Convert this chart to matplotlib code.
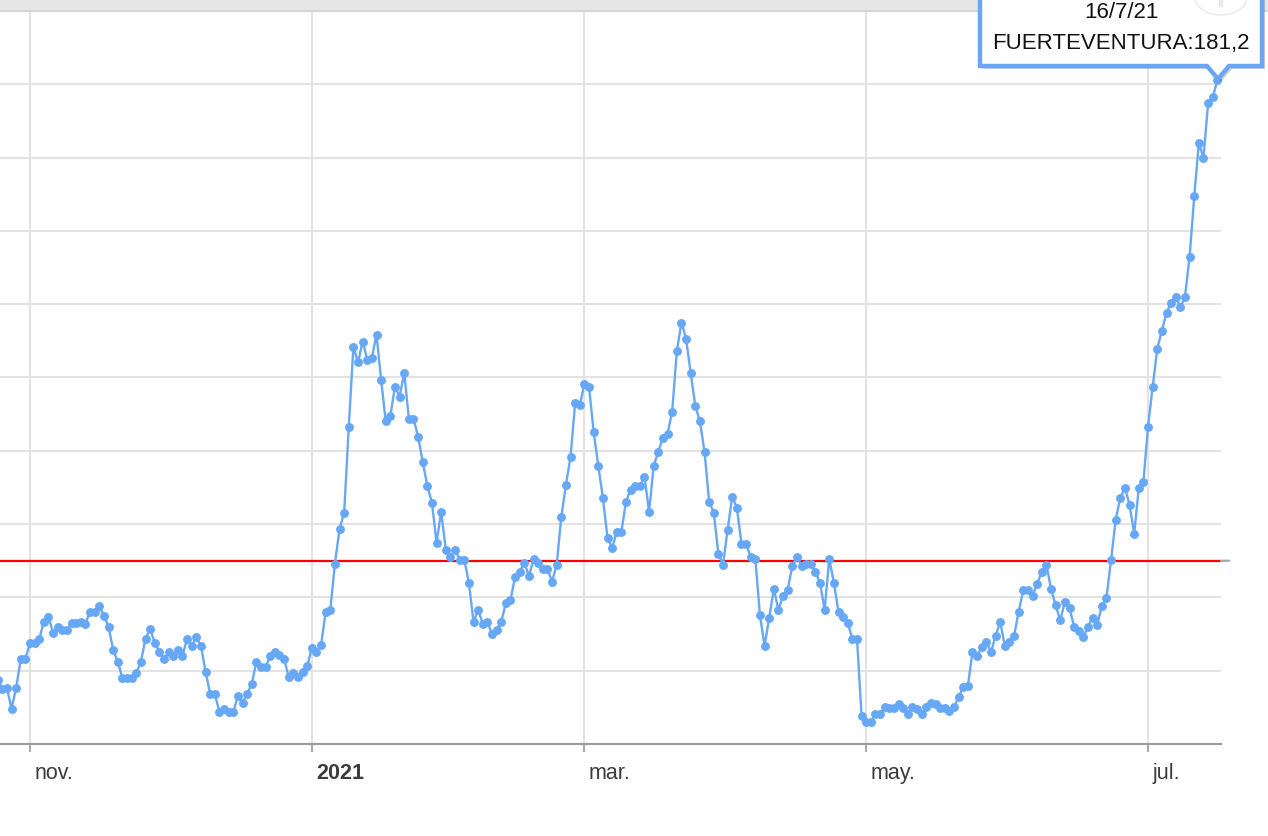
import matplotlib
matplotlib.use("Agg")
import matplotlib.pyplot as plt
import matplotlib.dates as mdates
from matplotlib.patches import Polygon, Rectangle, Circle
import pandas as pd

# Incidencia diaria de Fuerteventura, del 25/10/2020 al 16/7/2021
START_DATE = "2020-10-25"
INCIDENCE = [
    # oct. 25-31
    17.5, 15.0, 15.3, 9.6, 15.3, 23.2, 23.2,
    # nov.
    27.6, 27.6, 28.7, 33.3, 34.7, 30.3, 32.0, 31.1, 31.1, 33.1,
    33.1, 33.3, 32.8, 36.1, 36.1, 37.7, 35.0, 32.0, 25.7, 22.4,
    18.0, 18.0, 18.0, 19.4, 22.4, 28.7, 31.4, 27.6, 25.1, 23.2,
    # dic.
    25.1, 24.0, 25.7, 24.0, 28.7, 26.8, 29.2, 26.8, 19.7, 13.7,
    13.7, 8.7, 9.6, 8.7, 8.7, 13.1, 11.2, 13.7, 16.4, 22.4,
    21.0, 21.0, 24.0, 25.1, 24.3, 23.2, 18.3, 19.4, 18.3, 19.7, 21.3,
    # ene.
    26.2, 25.1, 27.0, 36.1, 36.6, 49.2, 58.7, 63.1, 86.6, 108.4,
    104.1, 109.8, 104.9, 105.4, 111.7, 99.4, 88.0, 89.6, 97.5, 94.8,
    101.3, 88.8, 88.8, 83.9, 77.0, 70.5, 65.8, 54.9, 63.4, 53.0, 51.1,
    # feb.
    53.0, 50.3, 50.3, 44.0, 33.3, 36.6, 32.8, 33.3, 30.0, 31.1,
    33.3, 38.5, 39.3, 45.6, 47.0, 49.4, 45.9, 50.5, 49.4, 47.8,
    47.8, 44.3, 48.9, 62.0, 70.7, 78.4, 93.1, 92.6,
    # mar.
    98.1, 97.5, 85.2, 75.9, 67.2, 56.3, 53.5, 57.9, 57.9, 66.1,
    69.4, 70.5, 70.5, 72.9, 63.4, 75.9, 79.8, 83.6, 84.7, 90.7,
    107.1, 115.0, 110.6, 101.3, 92.3, 88.0, 79.8, 66.1, 63.1, 51.9, 48.9,
    # abr.
    58.5, 67.5, 64.5, 54.6, 54.6, 51.0, 50.5, 35.1, 26.8, 34.4,
    42.3, 36.6, 40.4, 42.1, 48.6, 51.1, 48.6, 49.2, 49.2, 47.0,
    44.0, 36.6, 50.5, 44.0, 36.1, 34.7, 33.1, 28.7, 28.7, 7.6,
    # may.
    6.0, 6.0, 8.2, 8.2, 10.1, 9.8, 9.8, 10.9, 9.8, 8.2,
    10.1, 9.6, 8.2, 10.1, 11.2, 10.9, 9.8, 9.8, 9.0, 10.1,
    12.8, 15.6, 15.8, 25.1, 24.0, 26.5, 27.9, 25.1, 29.5, 33.3, 26.8,
    # jun.
    27.9, 29.5, 36.1, 42.1, 42.1, 40.4, 43.7, 47.0, 48.9, 42.4,
    37.8, 33.8, 38.8, 37.1, 32.0, 30.9, 29.2, 32.0, 34.4, 32.5,
    37.7, 39.9, 50.3, 61.2, 67.2, 69.9, 65.3, 57.4, 69.9, 71.6,
    # jul.
    86.6, 97.5, 107.9, 112.8, 117.7, 120.3, 122.1, 119.1, 122.1, 133.0,
    149.4, 164.0, 159.9, 174.8, 176.4, 181.2,
]
THRESHOLD = 50
TICK_DATES = ["2020-11-01", "2021-01-01", "2021-03-01", "2021-05-01", "2021-07-01"]
TICK_LABELS = ["nov.", "2021", "mar.", "may.", "jul."]
ISLAND = "FUERTEVENTURA"

W, H = 1268, 836
LINE_COLOR = "#66a8f6"

plt.rcParams['font.family'] = ['Liberation Sans', 'DejaVu Sans']


def px(x, y):
    """Image pixel (from top-left) to figure fraction."""
    return x / W, 1 - y / H


dates = pd.date_range(START_DATE, periods=len(INCIDENCE), freq="D")
tick_dates = pd.to_datetime(TICK_DATES)

fig = plt.figure(figsize=(W / 100, H / 100), dpi=100)
ax = fig.add_axes([0, (H - 744) / H, 1221 / W, (744 - 11) / H])

ax.axhline(THRESHOLD, color="#ff0000", lw=1.6, zorder=2)
ax.plot(dates, INCIDENCE, color=LINE_COLOR, lw=1.7, marker="o", ms=6.4,
        markeredgewidth=0, zorder=3)

# ejes: 4.62 px por dia, nov. 1 en x=30
day_px = 4.62
left = mdates.date2num(tick_dates[0]) - 30 / day_px
ax.set_xlim(left, left + 1221 / day_px)
ax.set_ylim(0, 200)

ax.set_yticks(range(20, 200, 20))
ax.set_xticks(tick_dates)
ax.set_xticklabels([])
ax.set_yticklabels([])
ax.tick_params(axis="y", length=0)
ax.tick_params(axis="x", direction="out", length=6, width=1.2, color="#999999")
ax.grid(True, color="#e3e3e3", lw=1.5)
ax.set_axisbelow(True)
for side in ["top", "right", "left"]:
    ax.spines[side].set_visible(False)
ax.spines["bottom"].set_color("#9a9a9a")
ax.spines["bottom"].set_linewidth(1.5)

for d, label in zip(tick_dates, TICK_LABELS):
    ax.annotate(label, xy=(d, 0), xycoords=("data", "axes fraction"),
                xytext=(3, -21), textcoords="offset points",
                ha="left", va="center", fontsize=15.5, color="#3c3c3c",
                fontweight="bold" if label.isdigit() else "normal")

# marca gris al final de la linea umbral
ax.annotate("", xy=(1, THRESHOLD), xycoords=("axes fraction", "data"),
            xytext=(6, 0), textcoords="offset points",
            arrowprops=dict(arrowstyle="-", color="#a8a8a8", lw=1.6,
                            shrinkA=0, shrinkB=0), annotation_clip=False)

# franja gris superior
fig.add_artist(Rectangle(px(0, 10), 1, 10 / H, transform=fig.transFigure,
                         color="#e6e6e6", lw=0, zorder=4))
fig.add_artist(plt.Line2D([0, 1], [px(0, 10.5)[1]] * 2, transform=fig.transFigure,
                          color="#cdcdcd", lw=1.2, zorder=4))

# tooltip
shape = [(980, -10), (980, 66), (1207, 66), (1218, 79), (1229, 66), (1262, 66), (1262, -10)]
shadow = Polygon([px(x + 3, y + 3) for x, y in shape], closed=True,
                 transform=fig.transFigure, facecolor="#000000", alpha=0.18,
                 edgecolor="none", zorder=5)
box = Polygon([px(x, y) for x, y in shape], closed=True, transform=fig.transFigure,
              facecolor="white", edgecolor="#6aa6f2", lw=3.2, zorder=6)
fig.add_artist(shadow)
fig.add_artist(box)

last_date = dates[-1]
value_text = f"{INCIDENCE[-1]:.1f}".replace(".", ",")
fig.text(*px(1121, 12), f"{last_date.day}/{last_date.month}/{last_date.strftime('%y')}",
         ha="center", va="center", fontsize=16, color="#111111", zorder=7)
fig.text(*px(1121, 44), f"{ISLAND}:{value_text}",
         ha="center", va="center", fontsize=16, color="#111111", zorder=7)

# boton de pausa
fig.add_artist(Circle(px(1221, -2), 17 / H, transform=fig.transFigure,
                      facecolor="white", edgecolor="#e4e4e4", lw=1, alpha=0.8, zorder=8))
fig.text(*px(1221, 4), "II", ha="center", va="center", fontsize=9,
         color="#d8d8d8", zorder=9)

fig.savefig("out.png", dpi=100)
plt.close(fig)
